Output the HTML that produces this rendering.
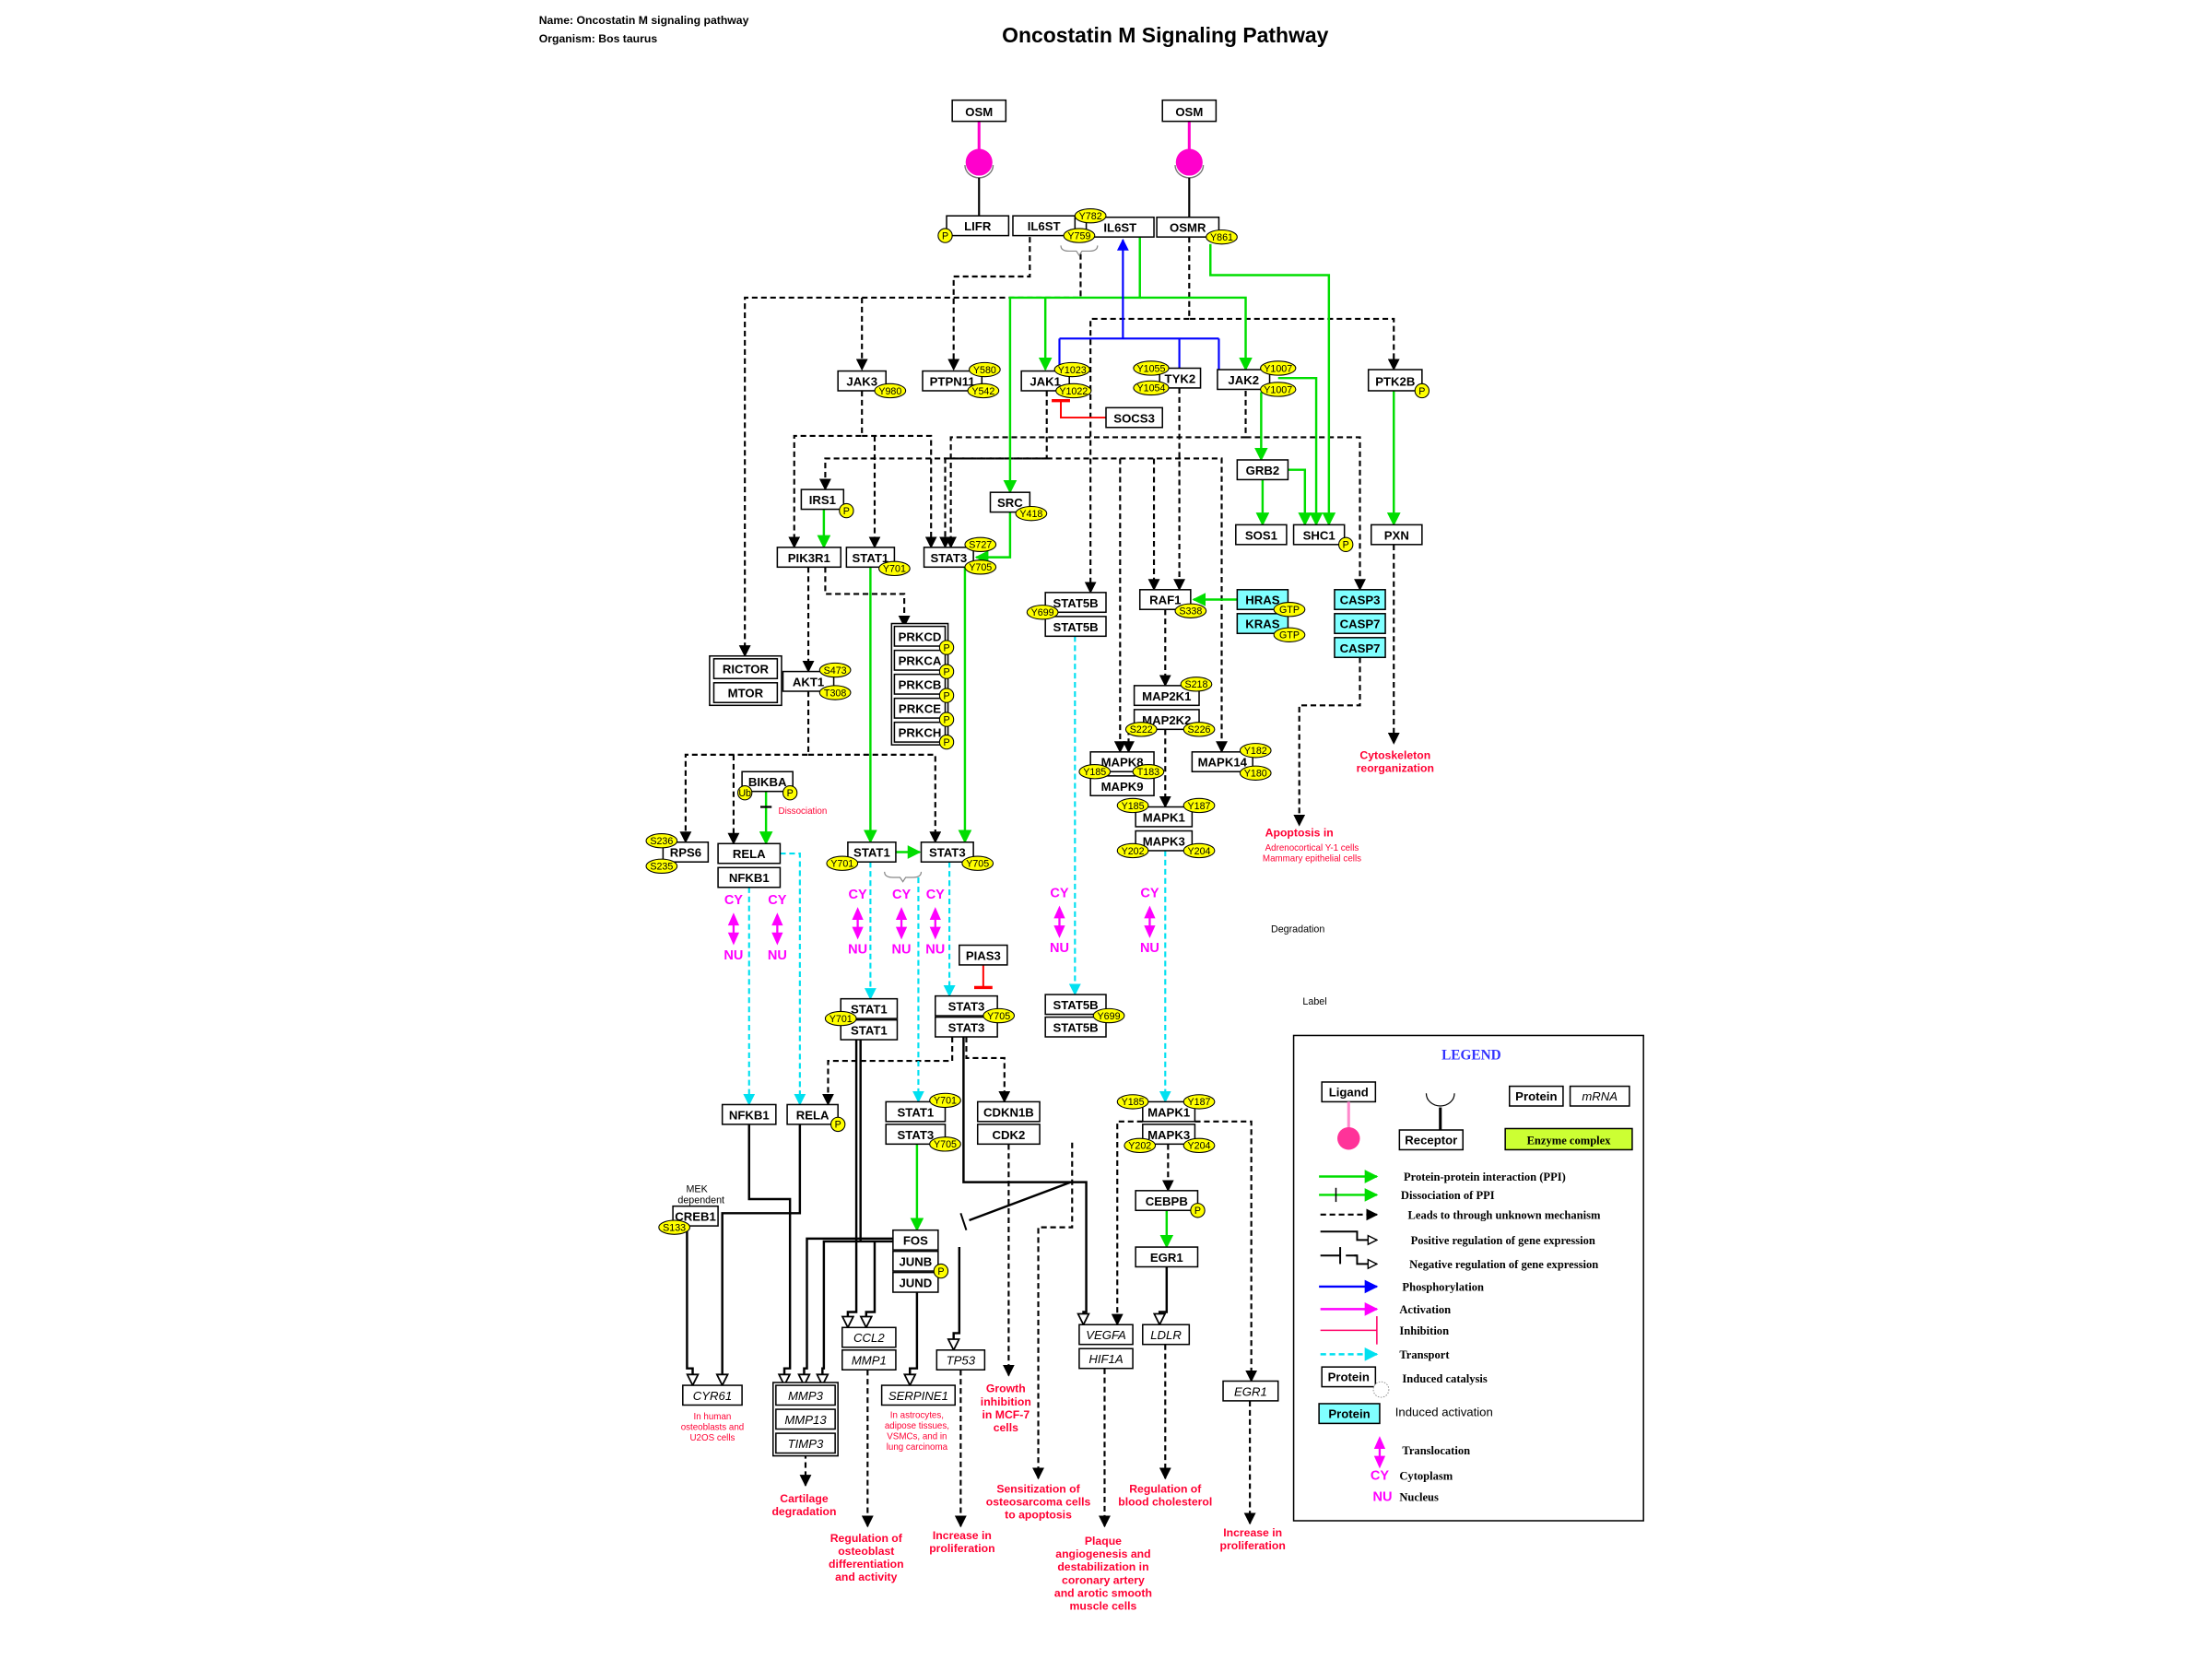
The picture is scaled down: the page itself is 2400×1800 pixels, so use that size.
<!DOCTYPE html>
<html><head><meta charset="utf-8"><title>Oncostatin M Signaling Pathway</title>
<style>
html,body{margin:0;padding:0;background:#fff;}
svg{display:block;}
.bx{font-family:"Liberation Sans",sans-serif;font-weight:bold;font-size:8.6px;}
.mr{font-family:"Liberation Sans",sans-serif;font-style:italic;font-size:8.6px;}
.el{font-family:"Liberation Sans",sans-serif;font-size:7px;}
.rd{font-family:"Liberation Sans",sans-serif;font-weight:bold;font-size:8px;fill:#ff0033;}
.rs{font-family:"Liberation Sans",sans-serif;font-size:6.4px;fill:#ff0033;}
.lg{font-family:"Liberation Serif",serif;font-weight:bold;font-size:8.2px;}
</style></head>
<body>
<svg id="svg" width="2400" height="1800" viewBox="0 0 1568 1176" xmlns="http://www.w3.org/2000/svg">
<defs>
<marker id="aK" viewBox="0 0 10 10" refX="9" refY="5" markerWidth="6" markerHeight="6" orient="auto"><path d="M0,0L10,5L0,10z" fill="#000"/></marker>
<marker id="aG" viewBox="0 0 10 10" refX="9" refY="5" markerWidth="6" markerHeight="6" orient="auto"><path d="M0,0L10,5L0,10z" fill="#00dd00"/></marker>
<marker id="aB" viewBox="0 0 10 10" refX="9" refY="5" markerWidth="6" markerHeight="6" orient="auto"><path d="M0,0L10,5L0,10z" fill="#0000ff"/></marker>
<marker id="aC" viewBox="0 0 10 10" refX="9" refY="5" markerWidth="6" markerHeight="6" orient="auto"><path d="M0,0L10,5L0,10z" fill="#00e0f0"/></marker>
<marker id="aM" viewBox="0 0 10 10" refX="9" refY="5" markerWidth="6" markerHeight="6" orient="auto"><path d="M0,0L10,5L0,10z" fill="#ff00ff"/></marker>
<marker id="aO" viewBox="0 0 10 10" refX="9" refY="5" markerWidth="6" markerHeight="6" orient="auto"><path d="M1,1L9,5L1,9z" fill="#fff" stroke="#000" stroke-width="1.2"/></marker>
<marker id="iR" viewBox="0 0 4 12" refX="2" refY="6" markerWidth="4" markerHeight="10" orient="auto"><path d="M2,0L2,12" stroke="#ff0000" stroke-width="2"/></marker>
</defs>
<text x="382" y="17" class="bx" style="font-size:8px">Name: Oncostatin M signaling pathway</text>
<text x="382" y="30" class="bx" style="font-size:8px">Organism: Bos taurus</text>
<text x="826" y="30" text-anchor="middle" class="bx" style="font-size:15px">Oncostatin M Signaling Pathway</text>
<g id="edges"></g>
<g id="nodes"></g>
<g id="legend"></g>
</svg>
<script>
const NS='http://www.w3.org/2000/svg';
const E=document.getElementById('edges'),N=document.getElementById('nodes'),L=document.getElementById('legend');
function mk(tag,attrs,parent){const el=document.createElementNS(NS,tag);for(const k in attrs)el.setAttribute(k,attrs[k]);parent.appendChild(el);return el;}
function txt(s,x,y,cls,parent,anchor,fill){const t=mk('text',{x:x,y:y,class:cls,'text-anchor':anchor||'middle'},parent);if(fill)t.setAttribute('fill',fill);t.textContent=s;return t;}

const boxes=[
['OSM',675,71,713,86,'p'],['OSM',824,71,862,86,'p'],
['LIFR',671,153,715,167,'p'],['IL6ST',718,153,762,167,'p'],['IL6ST',770,154,818,168,'p'],['OSMR',820,154,864,168,'p'],
['JAK3',594,263,628,277,'p'],['PTPN11',654,263,696,277,'p'],['JAK1',724,263,758,277,'p'],['TYK2',822,261,851,275,'p'],['JAK2',863,262,900,276,'p'],['PTK2B',970,262,1008,277,'p'],
['SOCS3',784,289,824,303,'p'],['GRB2',877,326,913,340,'p'],['IRS1',568,347,598,361,'p'],['SRC',702,349,730,363,'p'],
['SOS1',876,372,912,386,'p'],['SHC1',917,372,953,386,'p'],['PXN',972,372,1008,386,'p'],
['PIK3R1',551,388,596,402,'p'],['STAT1',600,388,634,402,'p'],['STAT3',655,388,690,402,'p'],
['STAT5B',741,420,784,434,'p'],['STAT5B',741,437,784,451,'p'],['RAF1',808,418,844,432,'p'],
['HRAS',877,418,913,432,'c'],['KRAS',877,435,913,449,'c'],['CASP3',946,418,982,432,'c'],['CASP7',946,435,982,449,'c'],['CASP7',946,452,982,466,'c'],
['PRKCD',634,444,670,458,'p'],['PRKCA',634,461,670,475,'p'],['PRKCB',634,478,670,492,'p'],['PRKCE',634,495,670,509,'p'],['PRKCH',634,512,670,526,'p'],
['RICTOR',506,467,551,481,'p'],['MTOR',506,484,551,498,'p'],['AKT1',555,476,591,490,'p'],
['MAP2K1',804,486,850,500,'p'],['MAP2K2',804,503,850,517,'p'],['MAPK8',773,533,818,547,'p'],['MAPK9',773,550,818,564,'p'],['MAPK14',845,533,888,547,'p'],
['MAPK1',805,572,845,586,'p'],['MAPK3',805,589,845,603,'p'],['BIKBA',526,547,562,561,'p'],
['RPS6',470,597,502,611,'p'],['RELA',509,598,553,612,'p'],['NFKB1',509,615,553,629,'p'],['STAT1',601,597,635,611,'p'],['STAT3',653,597,690,611,'p'],
['PIAS3',680,670,714,684,'p'],['STAT1',596,708,636,722,'p'],['STAT1',596,723,636,737,'p'],['STAT3',663,706,707,720,'p'],['STAT3',663,721,707,735,'p'],
['STAT5B',741,705,784,719,'p'],['STAT5B',741,721,784,735,'p'],
['NFKB1',512,783,550,797,'p'],['RELA',558,783,594,797,'p'],['STAT1',628,781,670,795,'p'],['STAT3',628,797,670,811,'p'],['CDKN1B',693,781,737,795,'p'],['CDK2',693,797,737,811,'p'],
['MAPK1',810,781,847,795,'p'],['MAPK3',810,797,847,811,'p'],['CEBPB',805,844,849,858,'p'],['EGR1',805,884,849,898,'p'],
['CREB1',477,855,509,869,'p'],['FOS',633,872,665,886,'p'],['JUNB',633,887,665,901,'p'],['JUND',633,902,665,916,'p'],
['CCL2',597,941,635,955,'m'],['MMP1',597,957,635,971,'m'],['VEGFA',765,939,803,953,'m'],['HIF1A',765,956,803,970,'m'],['LDLR',810,939,843,953,'m'],
['TP53',664,957,698,971,'m'],['CYR61',484,982,526,996,'m'],['MMP3',550,982,592,996,'m'],['MMP13',550,999,592,1013,'m'],['TIMP3',550,1016,592,1030,'m'],
['SERPINE1',625,982,677,996,'m'],['EGR1',867,979,906,993,'m']
];
const groups=[[632,442,672,528],[503,465,554,500],[548,980,594,1032]];
const mods=[
['P',670,167],['Y782',773,153],['Y759',765,167],['Y861',866,168],['Y980',631,277],['Y580',698,262],['Y542',697,277],
['Y1023',760,262],['Y1022',761,277],['Y1055',816,261],['Y1054',816,275],['Y1007',906,261],['Y1007',906,276],['P',1008,277],
['P',600,362],['Y418',731,364],['P',954,386],['Y701',634,403],['S727',695,386],['Y705',695,402],['Y699',739,434],['S338',844,433],
['GTP',914,432],['GTP',914,450],['P',671,459],['P',671,476],['P',671,493],['P',671,510],['P',671,526],['S473',592,475],['T308',592,491],
['S218',848,485],['S222',809,517],['S226',850,517],['Y185',776,547],['T183',814,547],['Y182',890,532],['Y180',890,548],
['Y185',803,571],['Y187',850,571],['Y202',803,603],['Y204',850,603],['Ub',528,562],['P',560,562],['S236',469,596],['S235',469,614],
['Y701',597,612],['Y705',693,612],['Y701',596,722],['Y705',708,720],['Y699',786,720],['P',594,797],['Y701',670,780],['Y705',670,811],
['Y185',803,781],['Y187',850,781],['Y202',808,812],['Y204',850,812],['P',849,858],['S133',478,870],['P',667,901]
];
const edges=[
['dash',[730,168,730,196,676,196,676,262]],
['dash',[766,180,766,211,528,211,528,465]],
['dash',[611,211,611,262]],
['dash',[843,168,843,226,988,226,988,262]],
['dash',[843,226,773,226,773,420]],
['dash',[611,277,611,309,563,309,563,388]],
['dash',[620,309,620,388]],
['dash',[611,309,660,309,660,388]],
['dash',[742,277,742,325,585,325,585,347]],
['dash',[742,325,670,325,670,388]],
['dash',[742,325,866,325,866,533]],
['dash',[794,325,794,533]],
['dash',[836,275,836,418]],
['dash',[818,325,818,418]],
['dash',[883,277,883,310,674,310,674,388]],
['dash',[883,310,964,310,964,418]],
['dash',[573,402,573,476]],
['dash',[585,402,585,421,641,421,641,444]],
['dash',[573,490,573,535,486,535,486,597]],
['dash',[573,535,663,535,663,597]],
['dash',[520,535,520,598]],
['dash',[964,466,964,500,921,500,921,585]],
['dash',[988,386,988,527]],
['dash',[826,432,826,486]],
['dash',[826,517,826,572]],
['dash',[800,517,800,533]],
['dash',[685,735,685,750,712,750,712,781]],
['dash',[675,735,675,752,587,752,587,783]],
['dash',[715,811,715,975]],
['dash',[828,811,828,844]],
['dash',[847,795,887,795,887,979]],
['dash',[810,795,792,795,792,939]],
['dash',[886,993,886,1080]],
['dash',[826,953,826,1048]],
['dash',[783,970,783,1082]],
['dash',[681,971,681,1082]],
['dash',[615,971,615,1082]],
['dash',[571,1030,571,1053]],
['dash',[760,810,760,870,736,870,736,1048]],
['ppi',[858,173,858,195,942,195,942,372]],
['ppi',[808,168,808,211,716,211,716,349]],
['ppi',[741,211,741,262]],
['ppi',[808,211,883,211,883,262]],
['ppi',[906,268,933,268,933,372]],
['ppi',[894,278,894,326]],
['ppi',[895,340,895,372]],
['ppi',[913,333,925,333,925,372]],
['ppi',[877,425,846,425]],
['ppi',[988,277,988,372]],
['ppi',[584,361,584,388]],
['ppi',[716,363,716,395,692,395]],
['ppi',[684,402,684,597]],
['ppi',[617,402,617,597]],
['ppi',[635,604,652,604]],
['ppi',[543,561,543,598]],
['ppi',[650,811,650,872]],
['ppi',[827,858,827,884]],
['phos',[796,240,796,170]],
['line-b',[751,240,864,240]],
['line-b',[751,240,751,262]],['line-b',[836,240,836,262]],['line-b',[864,240,864,262]],
['inh',[784,296,752,296,752,284]],
['inh',[697,684,697,700]],
['trans',[553,605,567,605,567,783]],
['trans',[531,629,531,783]],
['trans',[617,611,617,708]],
['trans',[673,611,673,706]],
['trans',[651,622,651,781]],
['trans',[762,451,762,705]],
['trans',[826,603,826,781]],
['gene',[607,737,607,930,601,930,601,941]],
['gene',[531,797,531,850,560,850,560,970,556,970,556,982]],
['gene',[567,797,567,860,512,860,512,982]],
['gene',[487,869,487,970,491,970,491,982]],
['gene',[633,878,572,878,572,970,570,970,570,982]],
['gene',[633,880,584,880,584,970,583,970,583,982]],
['gene',[620,880,620,930,614,930,614,941]],
['gene',[650,916,650,970,645,970,645,982]],
['gene',[683,735,683,838,770,838,770,930,768,930,768,939]],
['gene',[827,898,827,930,822,930,822,939]],
['gene',[680,884,680,945,676,945,676,957]],
['line-k',[610,737,610,880]],
['line-k',[759,838,687,865]]
];
const trans=[[520,641],[551,641],[608,637],[639,637],[663,637],[751,636],[815,636]];
const notes=[
['rd',['Cytoskeleton','reorganization'],989,538],
['rd',['Apoptosis in'],921,593],['rs',['Adrenocortical Y-1 cells','Mammary epithelial cells'],930,603],
['rs',['Dissociation'],569,577],
['rd',['Cartilage','degradation'],570,1065],
['rs',['In human','osteoblasts and','U2OS cells'],505,1006],
['rd',['Regulation of','osteoblast','differentiation','and activity'],614,1093],
['rs',['In astrocytes,','adipose tissues,','VSMCs, and in','lung carcinoma'],650,1005],
['rd',['Growth','inhibition','in MCF-7','cells'],713,987],
['rd',['Increase in','proliferation'],682,1091],
['rd',['Sensitization of','osteosarcoma cells','to apoptosis'],736,1058],
['rd',['Plaque','angiogenesis and','destabilization in','coronary artery','and arotic smooth','muscle cells'],782,1095],
['rd',['Regulation of','blood cholesterol'],826,1058],
['rd',['Increase in','proliferation'],888,1089]
];

const styles={
dash:{stroke:'#000','stroke-dasharray':'4,2.5',m:'aK',w:1.4},
ppi:{stroke:'#00dd00',m:'aG',w:1.6},
phos:{stroke:'#0000ff',m:'aB',w:1.4},
'line-b':{stroke:'#0000ff',w:1.4},
inh:{stroke:'#ff0000',m:'iR',w:1.3},
trans:{stroke:'#00e0f0','stroke-dasharray':'4,2.5',m:'aC',w:1.4},
gene:{stroke:'#000',m:'aO',w:1.6},
'line-k':{stroke:'#000',w:1.6}
};
edges.forEach(function(e){
  const s=styles[e[0]],p=e[1];let pts=[];for(let i=0;i<p.length;i+=2)pts.push(p[i]+','+p[i+1]);
  const pl=mk('polyline',{points:pts.join(' '),fill:'none',stroke:s.stroke,'stroke-width':s.w},E);
  
  
  if(s['stroke-dasharray'])pl.setAttribute('stroke-dasharray',s['stroke-dasharray']);
  if(s.m)pl.setAttribute('marker-end','url(#'+s.m+')');
});
const tk1=mk('line',{x1:539,y1:572,x2:547,y2:572,stroke:'#000','stroke-width':1.5},E);


const tk2=mk('line',{x1:681,y1:860,x2:685,y2:872,stroke:'#000','stroke-width':1.3},E);


[[765,174],[640,618]].forEach(function(b){
  const br=mk('path',{d:'M'+(b[0]-13)+','+b[1]+' q0,4 6,4 h5 l2,3 l2,-3 h5 q6,0 6,-4',fill:'none',stroke:'#888','stroke-width':0.8},E);
  
  
});
[694,843].forEach(function(x){
  const l1=mk('line',{x1:x,y1:86,x2:x,y2:107,stroke:'#ff00cc','stroke-width':2},N);
  
  
  const c=mk('circle',{cx:x,cy:115,r:9.5,fill:'#ff00cc'},N);
  
  
  const a=mk('path',{d:'M'+(x-10)+',117 a10,9 0 0,0 20,0',fill:'none',stroke:'#777','stroke-width':0.9},N);
  
  
  const l2=mk('line',{x1:x,y1:126,x2:x,y2:154,stroke:'#000','stroke-width':1.4},N);
  
  
});
groups.forEach(function(g){
  const r=mk('rect',{x:g[0],y:g[1],width:g[2]-g[0],height:g[3]-g[1],fill:'#fff',stroke:'#000','stroke-width':1},N);
  
  
});
boxes.forEach(function(b){
  const fill=b[5]==='c'?'#80ffff':'#fff';
  const r=mk('rect',{x:b[1],y:b[2],width:b[3]-b[1],height:b[4]-b[2],fill:fill,stroke:'#000','stroke-width':1},N);
  
  
  const t=txt(b[0],(b[1]+b[3])/2,b[4]-3.6,b[5]==='m'?'mr':'bx',N);
  
  
});
mods.forEach(function(m){
  const rx=m[0].length<=2?5:(m[0].length<=4?11:12.5);
  const e=mk('ellipse',{cx:m[1],cy:m[2],rx:rx,ry:5,fill:'#ffff00',stroke:'#000','stroke-width':0.7},N);
  
  
  const t=txt(m[0],m[1],m[2]+2.5,'el',N);
  
  
});
function transloc(x,y,parent,withText){
  if(withText){
    const c=txt('CY',x,y,'bx',parent,'middle','#ff00ff');c.style.fontSize='9.5px';
    
    
  }
  const yy=withText?y+6:y-10;
  const p=mk('path',{d:'M'+x+','+yy+' l-4,9 h8z M'+x+','+(yy+23)+' l-4,-9 h8z',fill:'#ff00ff'},parent);
  
  
  const ln=mk('line',{x1:x,y1:yy+8,x2:x,y2:yy+15,stroke:'#ff00ff','stroke-width':1.5},parent);
  
  
  if(withText){
    const n=txt('NU',x,y+39,'bx',parent,'middle','#ff00ff');n.style.fontSize='9.5px';
    
    
  }
}
trans.forEach(function(t){transloc(t[0],t[1],N,true);});
notes.forEach(function(n){
  n[1].forEach(function(line,i){
    const t=txt(line,n[2],n[3]+i*(n[0]==='rd'?9.2:7.6),n[0],N);
    
    
  });
});
const dg=txt('Degradation',920,661,'el',N);


const lb=txt('Label',932,712,'el',N);


const md=txt('MEK',494,845,'el',N);


const md2=txt('dependent',497,853,'el',N);



const lf=mk('rect',{x:917,y:734,width:248,height:344,fill:'#fff',stroke:'#000','stroke-width':1},L);


const lt=txt('LEGEND',1043,751,'lg',L,'middle','#3333ff');lt.style.fontSize='10px';


function lbox(s,x1,y1,x2,y2,fill,cls,name){
  const r=mk('rect',{x:x1,y:y1,width:x2-x1,height:y2-y1,fill:fill,stroke:'#000','stroke-width':1},L);
  
  
  const t=txt(s,(x1+x2)/2,y2-4,cls,L);
  
  
}
lbox('Ligand',937,767,975,781,'#fff','bx','legend-ligand');
const lp=mk('line',{x1:956,y1:781,x2:956,y2:800,stroke:'#ff88cc','stroke-width':2},L);


const lc=mk('circle',{cx:956,cy:807,r:8,fill:'#ff3399'},L);


const ra=mk('path',{d:'M1011,775 a10,9 0 0,0 20,0',fill:'none',stroke:'#000','stroke-width':0.8},L);


const rl=mk('line',{x1:1021,y1:785,x2:1021,y2:801,stroke:'#000','stroke-width':2},L);


lbox('Receptor',992,801,1037,815,'#fff','bx','legend-receptor');
lbox('Protein',1070,770,1108,784,'#fff','bx','legend-protein');
lbox('mRNA',1113,770,1155,784,'#fff','mr','legend-mrna');
lbox('Enzyme complex',1067,800,1157,815,'#ccff33','lg','legend-enzyme-complex');
const rows=[
['ppi','Protein-protein interaction (PPI)',834,995],
['diss','Dissociation of PPI',847,993],
['dash','Leads to through unknown mechanism',861,998],
['pos','Positive regulation of gene expression',879,1000],
['neg','Negative regulation of gene expression',896,999],
['phos','Phosphorylation',912,994],
['act','Activation',928,992],
['inh','Inhibition',943,992],
['trans','Transport',960,992],
['cat','Induced catalysis',977,994],
['iact','Induced activation',1001,989],
['tl','Translocation',1028,994],
['cy','Cytoplasm',1046,992],
['nu','Nucleus',1061,992]
];
rows.forEach(function(r){
  const y=r[2];
  let line=null;
  if(r[0]==='ppi'||r[0]==='diss'){line=mk('line',{x1:935,y1:y,x2:976,y2:y,stroke:'#00dd00','stroke-width':1.6,'marker-end':'url(#aG)'},L);}
  if(r[0]==='diss'){const t=mk('line',{x1:947,y1:y-5,x2:947,y2:y+5,stroke:'#000','stroke-width':1},L);}
  if(r[0]==='dash'){line=mk('line',{x1:936,y1:y,x2:976,y2:y,stroke:'#000','stroke-width':1.4,'stroke-dasharray':'4,2.5','marker-end':'url(#aK)'},L);}
  if(r[0]==='pos'){line=mk('polyline',{points:'936,'+(y-6)+' 962,'+(y-6)+' 962,'+y+' 976,'+y,fill:'none',stroke:'#000','stroke-width':1.3,'marker-end':'url(#aO)'},L);}
  if(r[0]==='neg'){line=mk('polyline',{points:'960,'+(y-6)+' 962,'+(y-6)+' 962,'+y+' 976,'+y,fill:'none',stroke:'#000','stroke-width':1.3,'marker-end':'url(#aO)'},L);
    const a=mk('line',{x1:936,y1:y-6,x2:950,y2:y-6,stroke:'#000','stroke-width':1.3},L);
    const b=mk('line',{x1:950,y1:y-12,x2:950,y2:y,stroke:'#000','stroke-width':1.3},L);
    const c=mk('line',{x1:954,y1:y-6,x2:962,y2:y-6,stroke:'#000','stroke-width':1.3},L);}
  if(r[0]==='phos'){line=mk('line',{x1:935,y1:y,x2:976,y2:y,stroke:'#0000ff','stroke-width':1.6,'marker-end':'url(#aB)'},L);}
  if(r[0]==='act'){line=mk('line',{x1:936,y1:y,x2:976,y2:y,stroke:'#ff00ff','stroke-width':1.6,'marker-end':'url(#aM)'},L);}
  if(r[0]==='inh'){line=mk('line',{x1:936,y1:y,x2:976,y2:y,stroke:'#ff0066','stroke-width':1},L);
    const b=mk('line',{x1:976,y1:y-10,x2:976,y2:y+10,stroke:'#ff0066','stroke-width':1},L);}
  if(r[0]==='trans'){line=mk('line',{x1:936,y1:y,x2:976,y2:y,stroke:'#00e0f0','stroke-width':1.6,'stroke-dasharray':'4,2.5','marker-end':'url(#aC)'},L);}
  if(r[0]==='cat'){lbox('Protein',937,969,975,983,'#fff','bx','legend-catalysis-protein');
    const c=mk('circle',{cx:979,cy:985,r:5.5,fill:'#fff',stroke:'#888','stroke-width':0.6,'stroke-dasharray':'1,1'},L);}
  if(r[0]==='iact'){lbox('Protein',935,995,978,1009,'#80ffff','bx','legend-activation-protein');}
  if(r[0]==='tl'){transloc(978,y,L,false);}
  if(r[0]==='cy'){const t=txt('CY',978,y+3,'bx',L,'middle','#ff00ff');t.style.fontSize='9.5px';}
  if(r[0]==='nu'){const t=txt('NU',980,y+3,'bx',L,'middle','#ff00ff');t.style.fontSize='9.5px';}
  if(line){}
  const t=txt(r[1],r[3],y+3,r[0]==='iact'?'bx':'lg',L,'start');
  if(r[0]==='iact')t.style.fontWeight='normal';
  
  
});
</script>
</body></html>
